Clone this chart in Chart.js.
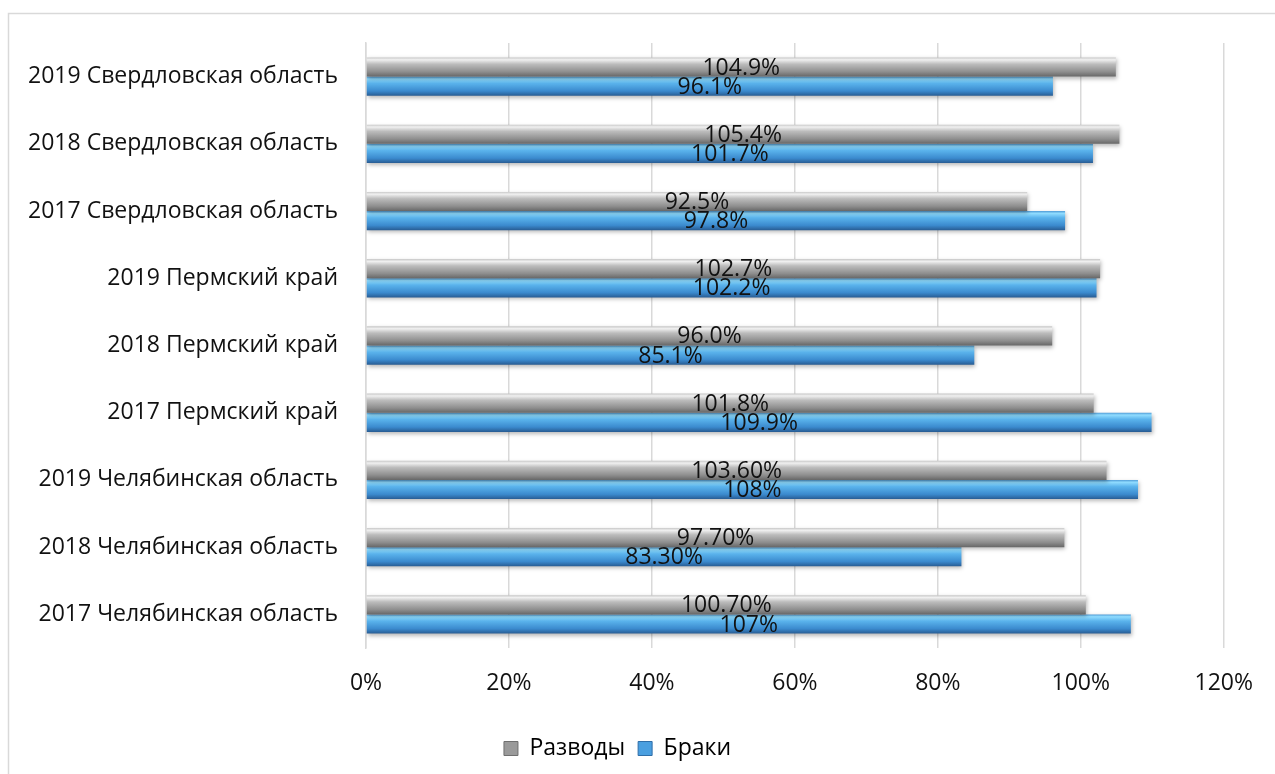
<!DOCTYPE html>
<html>
<head>
<meta charset="utf-8">
<script src="https://cdn.jsdelivr.net/npm/chart.js@4"></script>
<style>
  html, body { margin: 0; padding: 0; background: #ffffff; }
  #wrap { position: relative; width: 1275px; height: 774px; }
</style>
</head>
<body>
<div id="wrap"><canvas id="c" width="1275" height="774"></canvas></div>
<script>
const categories = [
  "2019 Свердловская область",
  "2018 Свердловская область",
  "2017 Свердловская область",
  "2019 Пермский край",
  "2018 Пермский край",
  "2017 Пермский край",
  "2019 Челябинская область",
  "2018 Челябинская область",
  "2017 Челябинская область"
];
const divorces = [104.9, 105.4, 92.5, 102.7, 96.0, 101.8, 103.6, 97.7, 100.7];
const divorceLabels = ["104.9%", "105.4%", "92.5%", "102.7%", "96.0%", "101.8%", "103.60%", "97.70%", "100.70%"];
const marriages = [96.1, 101.7, 97.8, 102.2, 85.1, 109.9, 108, 83.3, 107];
const marriageLabels = ["96.1%", "101.7%", "97.8%", "102.2%", "85.1%", "109.9%", "108%", "83.30%", "107%"];
const seriesNames = ["Разводы", "Браки"];
const xTicks = [0, 20, 40, 60, 80, 100, 120];

const FONT = "'Open Sans', 'Noto Sans', sans-serif";
const FSIZE = 23;
const CAT_PCT = 0.57;

const gradStops = [
  [[0, '#c8c8c8'], [0.12, '#f0f0f0'], [0.35, '#bcbcbc'], [0.75, '#8e8e8e'], [1, '#676767']],
  [[0, '#4f9bd6'], [0.12, '#90dcff'], [0.35, '#5ab3ec'], [0.75, '#3b8ace'], [1, '#285c93']]
];
const solidColors = ['#9a9a9a', '#4a9fe0'];

function barFill(ctx) {
  const chart = ctx.chart;
  const ds = ctx.datasetIndex;
  const y = chart.scales && chart.scales.y;
  if (ctx.type !== 'data' || !y || !isFinite(y.top)) return solidColors[ds];
  const cy = y.getPixelForValue(ctx.dataIndex);
  const catH = (y.bottom - y.top) / categories.length;
  const h = catH * CAT_PCT / 2;
  const top = ds === 0 ? cy - h : cy;
  const g = chart.ctx.createLinearGradient(0, top, 0, top + h);
  gradStops[ds].forEach(s => g.addColorStop(s[0], s[1]));
  return g;
}

const framePlugin = {
  id: 'frame',
  beforeDraw(chart) {
    const c = chart.ctx;
    c.save();
    c.strokeStyle = '#d9d9d9';
    c.lineWidth = 1.5;
    c.beginPath();
    c.moveTo(8.5, chart.height);
    c.lineTo(8.5, 13.5);
    c.lineTo(chart.width, 13.5);
    c.stroke();
    c.restore();
  }
};

const shadowPlugin = {
  id: 'barShadow',
  beforeDatasetsDraw(chart) {
    const c = chart.ctx;
    c.save();
    c.shadowColor = 'rgba(0,0,0,0.28)';
    c.shadowBlur = 4;
    c.shadowOffsetX = 1;
    c.shadowOffsetY = 2;
  },
  afterDatasetsDraw(chart) {
    chart.ctx.restore();
  }
};

const labelPlugin = {
  id: 'valueLabels',
  afterDatasetsDraw(chart) {
    const c = chart.ctx;
    const texts = [divorceLabels, marriageLabels];
    c.save();
    c.font = FSIZE + 'px ' + FONT;
    c.fillStyle = '#111111';
    c.textAlign = 'center';
    c.textBaseline = 'middle';
    chart.data.datasets.forEach((d, di) => {
      const meta = chart.getDatasetMeta(di);
      meta.data.forEach((el, i) => {
        const x = (el.x + el.base) / 2;
        c.fillText(texts[di][i], x, el.y + 1);
      });
    });
    c.restore();
  }
};

new Chart(document.getElementById('c'), {
  type: 'bar',
  data: {
    labels: categories,
    datasets: [
      { label: seriesNames[0], data: divorces, backgroundColor: barFill, borderWidth: 0,
        barPercentage: 1, categoryPercentage: CAT_PCT },
      { label: seriesNames[1], data: marriages, backgroundColor: barFill, borderWidth: 0,
        barPercentage: 1, categoryPercentage: CAT_PCT }
    ]
  },
  options: {
    indexAxis: 'y',
    responsive: false,
    animation: false,
    devicePixelRatio: 1,
    layout: { padding: { left: 10, right: 50, top: 43, bottom: 4 } },
    scales: {
      x: {
        min: 0, max: 120,
        afterBuildTicks(scale) { scale.ticks = xTicks.map(v => ({ value: v })); },
        ticks: {
          callback: v => v + '%',
          font: { size: FSIZE, family: FONT },
          color: '#111111',
          padding: 22,
          maxRotation: 0
        },
        grid: { color: '#d9d9d9', lineWidth: 1.5, drawTicks: false },
        border: { display: false },
        afterFit(scale) { scale.height = 76; }
      },
      y: {
        ticks: {
          font: { size: FSIZE, family: FONT },
          color: '#111111',
          padding: 28
        },
        grid: { display: false, drawTicks: false },
        border: { display: true, color: '#d9d9d9', width: 1.5 },
        afterFit(scale) { scale.width = 356; }
      }
    },
    plugins: {
      legend: {
        position: 'bottom',
        labels: {
          font: { size: FSIZE, family: FONT },
          color: '#111111',
          boxWidth: 14,
          boxHeight: 14,
          padding: 13,
          generateLabels(chart) {
            return chart.data.datasets.map((d, i) => ({
              text: d.label,
              fillStyle: solidColors[i],
              strokeStyle: i === 0 ? '#6f6f6f' : '#2f6ea8',
              lineWidth: 1,
              datasetIndex: i,
              hidden: false
            }));
          }
        }
      },
      tooltip: { enabled: false }
    }
  },
  plugins: [framePlugin, shadowPlugin, labelPlugin]
});
</script>
</body>
</html>
